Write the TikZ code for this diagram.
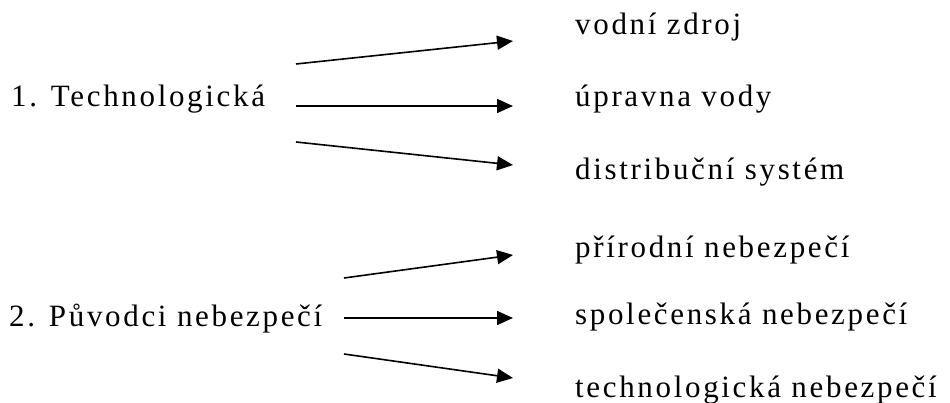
\documentclass[tikz,border=0pt]{standalone}
\usepackage{fontspec}
\setmainfont{Liberation Serif}[LetterSpace=8.6]
\usetikzlibrary{arrows.meta}
\tikzset{
  lbl/.style={anchor=base west, inner sep=0pt, font=\fontsize{31}{37}\selectfont},
  arr/.style={line width=1.6pt, -{Triangle[length=16pt,width=14pt]}}
}
\begin{document}
\begin{tikzpicture}[x=1pt,y=-1pt]
\useasboundingbox (0,0) rectangle (950,403);
% left labels
\node[lbl] (t1) at (11,107) {1. Technologická};
\node[lbl] (t2) at (9,326) {2. Původci nebezpečí};
% right labels
\node[lbl] (a1) at (575,35) {vodní zdroj};
\node[lbl] (a2) at (575,107) {úpravna vody};
\node[lbl] (a3) at (575,180) {distribuční systém};
\node[lbl] (b1) at (575,258) {přírodní nebezpečí};
\node[lbl] (b2) at (575,324) {společenská nebezpečí};
\node[lbl] (b3) at (575,397) {technologická nebezpečí};
% arrow ends
\coordinate (s11) at (296,64);
\coordinate (s12) at (296,106);
\coordinate (s13) at (296,142);
\coordinate (e11) at (513,41);
\coordinate (e12) at (513,106);
\coordinate (e13) at (513,165);
\coordinate (s21) at (344,278);
\coordinate (s22) at (344,318);
\coordinate (s23) at (344,354);
\coordinate (e21) at (513,255);
\coordinate (e22) at (513,318);
\coordinate (e23) at (513,378);
\draw[arr] (s11) -- (e11);
\draw[arr] (s12) -- (e12);
\draw[arr] (s13) -- (e13);
\draw[arr] (s21) -- (e21);
\draw[arr] (s22) -- (e22);
\draw[arr] (s23) -- (e23);
\end{tikzpicture}
\end{document}
